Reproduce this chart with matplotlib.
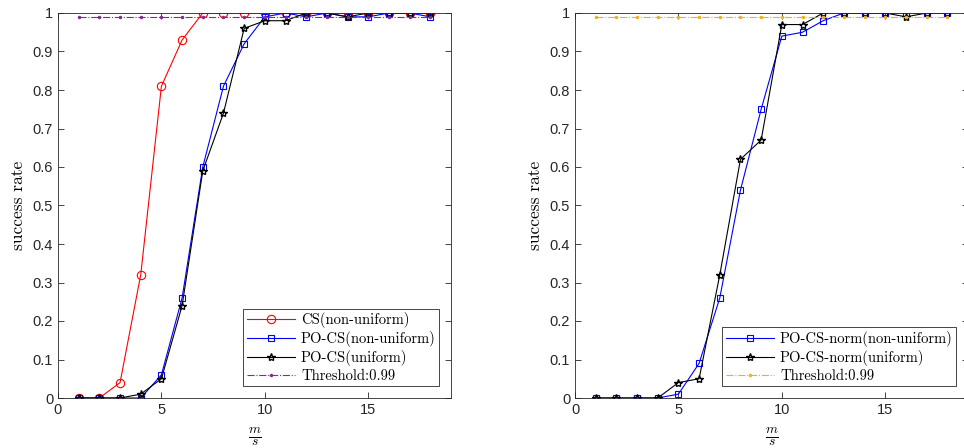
import numpy as np
import matplotlib.pyplot as plt

plt.rcParams['mathtext.fontset'] = 'cm'
plt.rcParams['font.family'] = ['Liberation Sans', 'DejaVu Sans']

# x axis values: m/s
ratio = list(range(1, 19))

# left panel
cs_nonuni = [0, 0, 0.04, 0.32, 0.81, 0.93, 1, 1, 1, 1, 1, 1, 1, 1, 1, 1, 1, 1]
pocs_nonuni = [0, 0, 0, 0, 0.06, 0.26, 0.60, 0.81, 0.92, 0.99, 1, 0.99, 1, 0.99, 0.99, 1, 1, 0.99]
pocs_uni = [0, 0, 0, 0.01, 0.05, 0.24, 0.59, 0.74, 0.96, 0.98, 0.98, 1, 1, 0.99, 1, 1, 1, 1]

# right panel
norm_nonuni = [0, 0, 0, 0, 0.01, 0.09, 0.26, 0.54, 0.75, 0.94, 0.95, 0.98, 1, 1, 1, 1, 1, 1]
norm_uni = [0, 0, 0, 0, 0.04, 0.05, 0.32, 0.62, 0.67, 0.97, 0.97, 1, 1, 1, 1, 0.99, 1, 1]

threshold = 0.99
thr = [threshold] * len(ratio)

yticks = np.round(np.arange(0, 1.01, 0.1), 1)
ytick_labels = ['0'] + ['%.1f' % v for v in yticks[1:-1]] + ['1']

fig = plt.figure(figsize=(9.64, 4.48), dpi=100)
ax1 = fig.add_axes([58 / 964, 50 / 448, 393 / 964, 385 / 448])
ax2 = fig.add_axes([575 / 964, 50 / 448, 393 / 964, 385 / 448])

lw = 0.8
ax1.plot(ratio, cs_nonuni, '-o', color='#FF0000', lw=lw, ms=6, mfc='none', mew=0.8, label='CS(non-uniform)')
ax1.plot(ratio, pocs_nonuni, '-s', color='#0000FF', lw=lw, ms=4, mfc='none', mew=0.8, label='PO-CS(non-uniform)')
ax1.plot(ratio, pocs_uni, '-*', color='black', lw=lw, ms=6, mfc='none', mew=1.0, label='PO-CS(uniform)')
ax1.plot(ratio, thr, '-.', marker='.', color='#7E2F8E', lw=lw, ms=3, label='Threshold:0.99')

ax2.plot(ratio, norm_nonuni, '-s', color='#0000FF', lw=lw, ms=4, mfc='none', mew=0.8, label='PO-CS-norm(non-uniform)')
ax2.plot(ratio, norm_uni, '-*', color='black', lw=lw, ms=6, mfc='none', mew=1.0, label='PO-CS-norm(uniform)')
ax2.plot(ratio, thr, '-.', marker='.', color='#EDB120', lw=lw, ms=3, label='Threshold:0.99')

for ax in (ax1, ax2):
    ax.set_xlim(0, 19)
    ax.set_ylim(0, 1)
    ax.set_xticks([0, 5, 10, 15])
    ax.set_yticks(yticks)
    ax.set_yticklabels(ytick_labels)
    ax.tick_params(direction='in', top=True, right=True, labelsize=10.5, length=4, width=0.6, colors='#262626')
    for s in ax.spines.values():
        s.set_linewidth(0.6)
        s.set_color('#262626')
    ax.set_ylabel('success rate', family='cmr10', fontsize=12.5, labelpad=5)
    ax.set_xlabel(r'$\frac{m}{s}$', fontsize=14, labelpad=6)
    leg = ax.legend(loc='lower right', prop={'family': 'cmr10', 'size': 10.5},
                    fancybox=False, edgecolor='#262626', framealpha=1,
                    borderaxespad=0.8, handlelength=3.3, labelspacing=0.2,
                    borderpad=0.25, handletextpad=0.4)
    leg.get_frame().set_linewidth(0.6)

fig.savefig('out.png', dpi=100)
